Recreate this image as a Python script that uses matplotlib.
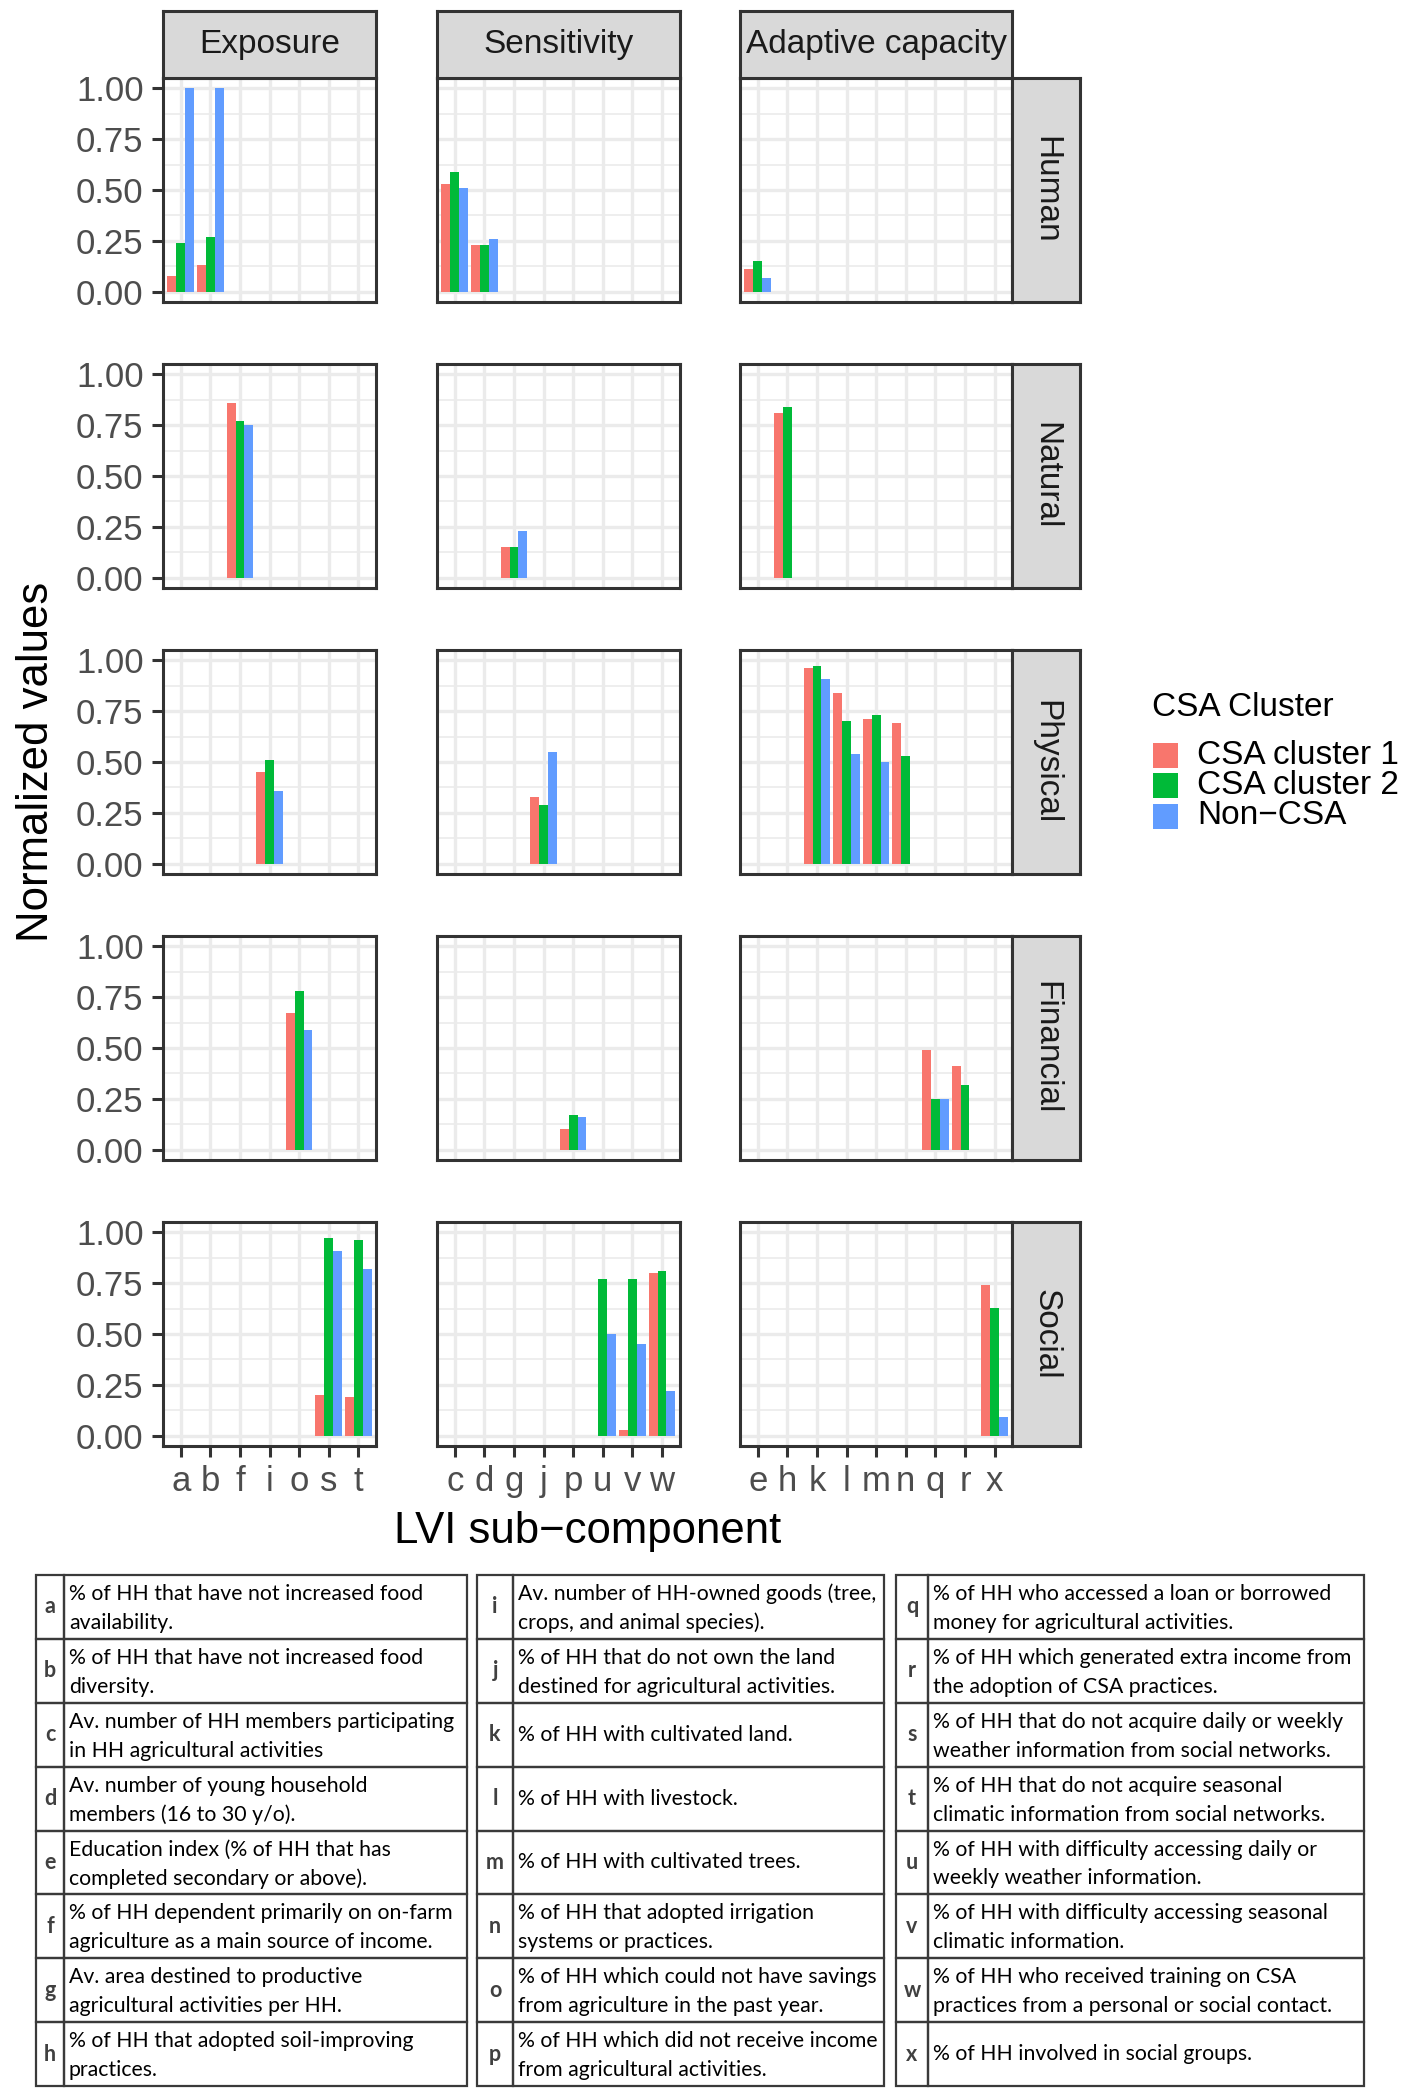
import numpy as np
import matplotlib
matplotlib.use('Agg')
import matplotlib.pyplot as plt
from matplotlib.patches import Rectangle

plt.rcParams['font.family'] = ['Liberation Sans', 'DejaVu Sans']

# LVI sub-components, their dimension (facet column) and component (facet row)
subcomp = list('abcdefghijklmnopqrstuvwx')
dimension = ['Exposure', 'Exposure', 'Sensitivity', 'Sensitivity', 'Adaptive capacity',
             'Exposure', 'Sensitivity', 'Adaptive capacity',
             'Exposure', 'Sensitivity', 'Adaptive capacity', 'Adaptive capacity',
             'Adaptive capacity', 'Adaptive capacity',
             'Exposure', 'Sensitivity', 'Adaptive capacity', 'Adaptive capacity',
             'Exposure', 'Exposure', 'Sensitivity', 'Sensitivity', 'Sensitivity',
             'Adaptive capacity']
component = ['Human', 'Human', 'Human', 'Human', 'Human',
             'Natural', 'Natural', 'Natural',
             'Physical', 'Physical', 'Physical', 'Physical', 'Physical', 'Physical',
             'Financial', 'Financial', 'Financial', 'Financial',
             'Social', 'Social', 'Social', 'Social', 'Social', 'Social']

csa1 = [0.08, 0.13, 0.53, 0.23, 0.11, 0.86, 0.15, 0.81, 0.45, 0.33, 0.96, 0.84,
        0.71, 0.69, 0.67, 0.10, 0.49, 0.41, 0.20, 0.19, 0.00, 0.03, 0.80, 0.74]
csa2 = [0.24, 0.27, 0.59, 0.23, 0.15, 0.77, 0.15, 0.84, 0.51, 0.29, 0.97, 0.70,
        0.73, 0.53, 0.78, 0.17, 0.25, 0.32, 0.97, 0.96, 0.77, 0.77, 0.81, 0.63]
noncsa = [1.00, 1.00, 0.51, 0.26, 0.07, 0.75, 0.23, 0.00, 0.36, 0.55, 0.91, 0.54,
          0.50, 0.00, 0.59, 0.16, 0.25, 0.00, 0.91, 0.82, 0.50, 0.45, 0.22, 0.09]

series_names = ['CSA cluster 1', 'CSA cluster 2', 'Non\u2212CSA']
series_colors = ['#F8766D', '#00BA38', '#619CFF']
dimensions = ['Exposure', 'Sensitivity', 'Adaptive capacity']
components = ['Human', 'Natural', 'Physical', 'Financial', 'Social']
ytick_vals = [0.0, 0.25, 0.5, 0.75, 1.0]
ytick_labels = ['0.00', '0.25', '0.50', '0.75', '1.00']

descriptions = [
    "% of HH that have not increased food\navailability.",
    "% of HH that have not increased food\ndiversity.",
    "Av. number of HH members participating\nin HH agricultural activities",
    "Av. number of young household\nmembers (16 to 30 y/o).",
    "Education index (% of HH that has\ncompleted secondary or above).",
    "% of HH dependent primarily on on-farm\nagriculture as a main source of income.",
    "Av. area destined to productive\nagricultural activities per HH.",
    "% of HH that adopted soil-improving\npractices.",
    "Av. number of HH-owned goods (tree,\ncrops, and animal species).",
    "% of HH that do not own the land\ndestined for agricultural activities.",
    "% of HH with cultivated land.",
    "% of HH with livestock.",
    "% of HH with cultivated trees.",
    "% of HH that adopted irrigation\nsystems or practices.",
    "% of HH which could not have savings\nfrom agriculture in the past year.",
    "% of HH which did not receive income\nfrom agricultural activities.",
    "% of HH who accessed a loan or borrowed\nmoney for agricultural activities.",
    "% of HH which generated extra income from\nthe adoption of CSA practices.",
    "% of HH that do not acquire daily or weekly\nweather information from social networks.",
    "% of HH that do not acquire seasonal\nclimatic information from social networks.",
    "% of HH with difficulty accessing daily or\nweekly weather information.",
    "% of HH with difficulty accessing seasonal\nclimatic information.",
    "% of HH who received training on CSA\npractices from a personal or social contact.",
    "% of HH involved in social groups.",
]

W, H = 1418, 2094
fig = plt.figure(figsize=(W / 100, H / 100), dpi=100)


def px_rect(x0, y0, w, h):
    return [x0 / W, 1 - (y0 + h) / H, w / W, h / H]


values = np.array([csa1, csa2, noncsa])
dims = np.array(dimension)
comps = np.array(component)
cats = np.array(subcomp)

# layout in pixels
unit = 29.6
col_x = [163, 437, 740]
row_y = [78, 364, 650, 936, 1222]
panel_h = 224
strip_h = 67
edge = '#333333'

for c, dim in enumerate(dimensions):
    dim_cats = sorted(cats[dims == dim])
    n = len(dim_cats)
    pw = (n + 0.2) * unit
    for r, comp in enumerate(components):
        ax = fig.add_axes(px_rect(col_x[c], row_y[r], pw, panel_h))
        sel = np.where((dims == dim) & (comps == comp))[0]
        pos = np.array([dim_cats.index(cats[i]) for i in sel])
        for k in range(3):
            ax.bar(pos + (k - 1) * 0.3, values[k, sel], width=0.3,
                   color=series_colors[k], linewidth=0, zorder=3)
        ax.set_xlim(-0.6, n - 1 + 0.6)
        ax.set_ylim(-0.05, 1.05)
        ax.set_xticks(range(n))
        ax.set_xticklabels(dim_cats)
        ax.set_yticks(ytick_vals)
        ax.set_yticklabels(ytick_labels)
        ax.set_yticks([0.125, 0.375, 0.625, 0.875], minor=True)
        ax.grid(which='major', color='#EBEBEB', linewidth=2.4, zorder=0)
        ax.grid(which='minor', axis='y', color='#EBEBEB', linewidth=1.2, zorder=0)
        ax.set_axisbelow(True)
        for s in ax.spines.values():
            s.set_color(edge)
            s.set_linewidth(2.2)
        ax.tick_params(which='minor', length=0)
        ax.tick_params(which='major', length=8, width=2.2, color=edge,
                       labelsize=25, labelcolor='#4D4D4D', pad=6)
        if c > 0:
            ax.tick_params(axis='y', left=False, labelleft=False)
        if r < len(components) - 1:
            ax.tick_params(axis='x', bottom=False, labelbottom=False)

        # right strip with component name
        if c == len(dimensions) - 1:
            sx = fig.add_axes(px_rect(col_x[c] + pw, row_y[r], 67.5, panel_h))
            sx.set_facecolor('#D9D9D9')
            sx.set_xticks([])
            sx.set_yticks([])
            for s in sx.spines.values():
                s.set_color(edge)
                s.set_linewidth(2.2)
            sx.text(0.5, 0.5, comp, rotation=-90, ha='center', va='center',
                    fontsize=24, color='#1A1A1A', transform=sx.transAxes)

    # top strip with dimension name
    st = fig.add_axes(px_rect(col_x[c], row_y[0] - strip_h, pw, strip_h))
    st.set_facecolor('#D9D9D9')
    st.set_xticks([])
    st.set_yticks([])
    for s in st.spines.values():
        s.set_color(edge)
        s.set_linewidth(2.2)
    st.text(0.5, 0.5, dim, ha='center', va='center', fontsize=24,
            color='#1A1A1A', transform=st.transAxes)

fig.text(37 / W, 1 - 762 / H, 'Normalized values', rotation=90,
         ha='center', va='center', fontsize=31.5)
fig.text(588 / W, 1 - 1531 / H, 'LVI sub\u2212component',
         ha='center', va='center', fontsize=31.5)

# legend and table drawn in a pixel-coordinate overlay
ov = fig.add_axes([0, 0, 1, 1], zorder=-1)
ov.set_xlim(0, W)
ov.set_ylim(H, 0)
ov.axis('off')

ov.text(1152, 707, 'CSA Cluster', ha='left', va='center', fontsize=24)
for k in range(3):
    yc = 755 + k * 30.5
    ov.add_patch(Rectangle((1153, yc - 12.5), 25, 25, color=series_colors[k], lw=0))
    ov.text(1197, yc, series_names[k], ha='left', va='center', fontsize=24)

tab_top, tab_bot = 1575, 2086
row_hgt = (tab_bot - tab_top) / 8
groups = [(36, 64, 467), (477, 513, 884), (896, 928, 1364)]
line_col = '#3A3A3A'
for g, (gl, gm, gr) in enumerate(groups):
    for i in range(8):
        idx = g * 8 + i
        y0 = tab_top + i * row_hgt
        ov.add_patch(Rectangle((gl, y0), gm - gl, row_hgt, fill=False,
                               edgecolor=line_col, lw=1.6))
        ov.add_patch(Rectangle((gm, y0), gr - gm, row_hgt, fill=False,
                               edgecolor=line_col, lw=1.6))
        ov.text((gl + gm) / 2, y0 + row_hgt / 2, subcomp[idx], ha='center',
                va='center', fontsize=15.5, fontweight='bold', color='#404040',
                family=['Lato', 'DejaVu Sans'])
        lines = descriptions[idx].split('\n')
        if len(lines) == 1:
            ys = [y0 + row_hgt / 2]
        else:
            ys = [y0 + 19, y0 + 48]
        for ln, yy in zip(lines, ys):
            ov.text(gm + 5, yy, ln, ha='left', va='center', fontsize=15.3,
                    color='black', family=['Lato', 'DejaVu Sans'])

fig.savefig('out.png', dpi=100)
